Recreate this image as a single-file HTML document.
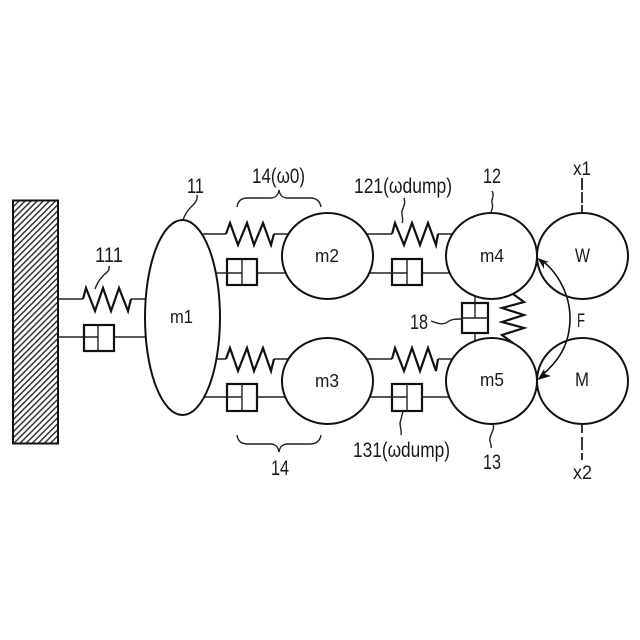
<!DOCTYPE html>
<html>
<head>
<meta charset="utf-8">
<style>
html,body{margin:0;padding:0;background:#fff}
svg{display:block}
text{font-family:"Liberation Sans",sans-serif;font-size:21px;fill:#1a1a1a}
text.m{font-size:18.500px}
.s{fill:none;stroke:#111;stroke-width:2.2;stroke-linejoin:miter}
.t{fill:none;stroke:#222;stroke-width:1.4}
.d{fill:#fff;stroke:#111;stroke-width:2.2}
.n{fill:#fff;stroke:#111;stroke-width:2}
</style>
</head>
<body>
<svg width="640" height="640" viewBox="0 0 640 640" xmlns="http://www.w3.org/2000/svg">
<defs>
<pattern id="h" width="4.300" height="4.300" patternUnits="userSpaceOnUse" patternTransform="rotate(-45)">
<rect width="4.300" height="4.300" fill="#fff"/>
<rect width="4.300" height="1.500" fill="#333"/>
</pattern>
</defs>
<rect width="640" height="640" fill="#fff"/>

<!-- wall -->
<rect x="13" y="200.500" width="45" height="243" fill="url(#h)" stroke="#111" stroke-width="2"/>

<!-- connecting lines -->
<g class="t">
<path d="M58 299H83M131 299H150"/>
<path d="M58 337H84M114 337H150"/>
<path d="M198 234H226M274 234H292"/>
<path d="M210 273H227M257 273H290"/>
<path d="M212 359H226M274 359H292"/>
<path d="M200 397H227M257 397H290"/>
<path d="M362 234H392M438 234H458"/>
<path d="M365 273H392M422 273H455"/>
<path d="M362 359H392M438 359H458"/>
<path d="M365 397H392M422 397H455"/>
<path d="M475 290V303M475 333V350"/>
</g>

<!-- masses -->
<ellipse class="n" cx="182.500" cy="317.500" rx="37.500" ry="97.500"/>
<ellipse class="n" cx="327.500" cy="256" rx="45.500" ry="43"/>
<ellipse class="n" cx="327.500" cy="381" rx="45.500" ry="43"/>
<ellipse class="n" cx="582.500" cy="256" rx="45.500" ry="43"/>
<ellipse class="n" cx="582.500" cy="381" rx="45.500" ry="43"/>
<ellipse class="n" cx="491.500" cy="256" rx="45.500" ry="43"/>
<ellipse class="n" cx="491.500" cy="381" rx="45.500" ry="43"/>

<!-- springs -->
<g class="s">
<path d="M83 299L86 288L95 311L103 288L111 311L119 288L128 311L131 299"/>
<path d="M226 234L230 223L238 245L247 223L254 245L263 223L271 245L274 234"/>
<path d="M226 359L230 348L238 371L247 348L254 371L263 348L271 371L274 359"/>
<path d="M392 234L395 223L404 245L412 223L420 245L428 223L436 245L438 234"/>
<path d="M392 359L395 348L404 371L412 348L420 371L428 348L436 371L438 359"/>
<path d="M513 294L524 302L502 308L524 315L502 322L524 328L502 335L513 343"/>
</g>

<!-- dampers -->
<g>
<rect class="d" x="84" y="325" width="30" height="26"/>
<path class="t" d="M84 337H98M98 325V351"/>
<rect class="d" x="227" y="259" width="30" height="26"/>
<path class="t" d="M227 273H242M242 259V285"/>
<rect class="d" x="227" y="384" width="30" height="27"/>
<path class="t" d="M227 397H242M242 384V411"/>
<rect class="d" x="392" y="259" width="30" height="26"/>
<path class="t" d="M392 273H407M407 259V285"/>
<rect class="d" x="392" y="384" width="30" height="27"/>
<path class="t" d="M392 397H407M407 384V411"/>
<rect class="d" x="462" y="303" width="26" height="30"/>
<path class="t" d="M462 318H488M475 303V318"/>
</g>

<!-- braces -->
<g class="t">
<path d="M237 207C238 200 242 198 248 198H270C275 198 278 196 279 190C280 196 283 198 288 198H310C316 198 320 201 321 207"/>
<path d="M237 435C238 442 242 444 248 444H270C275 444 278 446 279 452C280 446 283 444 288 444H310C316 444 320 441 321 435"/>
</g>

<!-- leaders -->
<g class="t">
<path d="M197 195C198 201 194 204 191 207C188 210 185 214 183 220"/>
<path d="M109 266C110 272 105 273 103 276C100 279 97 283 95 289"/>
<path d="M404 198C406 204 403 207 402 211C401 215 404 218 402 223"/>
<path d="M403 411C402 416 401 419 400 423C400 428 402 430 401 435"/>
<path d="M492 191C495 196 491 199 492 203C494 207 491 210 491 213"/>
<path d="M493 424C495 429 491 433 490 438C489 442 492 444 491 448"/>
<path d="M431 321C437 323 441 325 446 323C451 319 455 319 462 319"/>
<path d="M582 178V190M582 192V203M582 205V213" stroke-width="1.800"/>
<path d="M582 424V433M582 437V450M582 453V460" stroke-width="1.800"/>
</g>

<!-- force arrow -->
<path d="M541 260C558 272 570 295 570 318C570 345 558 362 541 376" fill="none" stroke="#111" stroke-width="1.600"/>
<path d="M537.500 258L549 262L544 263L544 269Z" fill="#111"/>
<path d="M537.500 380L544 369L545 374L551 376Z" fill="#111"/>

<!-- labels -->
<text class="m" x="170" y="323" textLength="23" lengthAdjust="spacingAndGlyphs">m1</text>
<text class="m" x="315" y="262" textLength="24" lengthAdjust="spacingAndGlyphs">m2</text>
<text class="m" x="315" y="387" textLength="24" lengthAdjust="spacingAndGlyphs">m3</text>
<text class="m" x="480" y="262" textLength="24" lengthAdjust="spacingAndGlyphs">m4</text>
<text class="m" x="480" y="386" textLength="24" lengthAdjust="spacingAndGlyphs">m5</text>
<text x="575" y="262" textLength="15" lengthAdjust="spacingAndGlyphs" style="font-size:19.500px">W</text>
<text x="575" y="386" textLength="14" lengthAdjust="spacingAndGlyphs" style="font-size:19.500px">M</text>
<text x="577" y="327" textLength="8" lengthAdjust="spacingAndGlyphs" style="font-size:19px">F</text>
<text x="95" y="262" textLength="28" lengthAdjust="spacingAndGlyphs">111</text>
<text x="187" y="193" textLength="17" lengthAdjust="spacingAndGlyphs">11</text>
<text x="252" y="183" textLength="53" lengthAdjust="spacingAndGlyphs">14(ω0)</text>
<text x="271" y="475" textLength="18" lengthAdjust="spacingAndGlyphs">14</text>
<text x="354" y="193" textLength="98" lengthAdjust="spacingAndGlyphs">121(ωdump)</text>
<text x="353" y="457" textLength="97" lengthAdjust="spacingAndGlyphs">131(ωdump)</text>
<text x="483" y="183" textLength="18" lengthAdjust="spacingAndGlyphs">12</text>
<text x="483" y="469" textLength="18" lengthAdjust="spacingAndGlyphs">13</text>
<text x="410" y="329" textLength="18" lengthAdjust="spacingAndGlyphs">18</text>
<text x="573" y="175" textLength="18" lengthAdjust="spacingAndGlyphs" style="font-size:19px">x1</text>
<text x="573" y="479" textLength="19" lengthAdjust="spacingAndGlyphs" style="font-size:19px">x2</text>
</svg>
</body>
</html>
